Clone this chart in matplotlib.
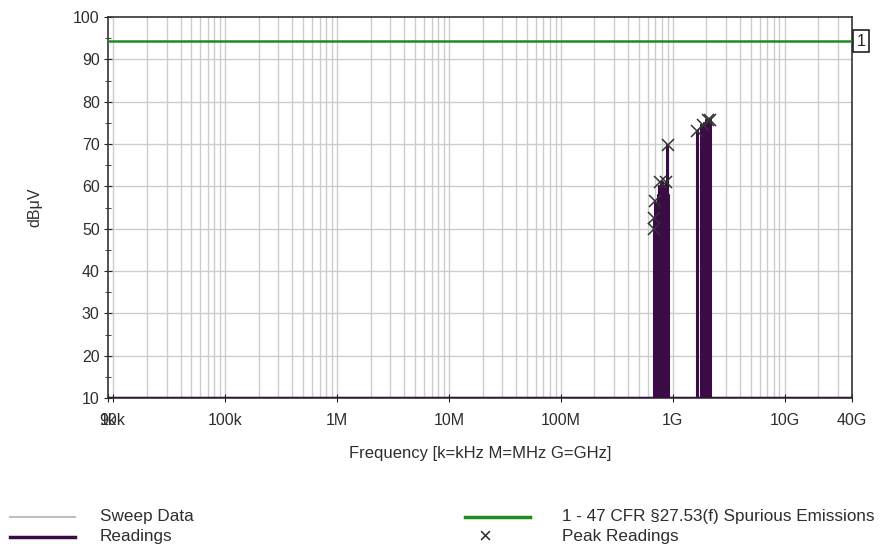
import matplotlib
matplotlib.use("Agg")
import matplotlib.pyplot as plt
from matplotlib.lines import Line2D
import numpy as np

plt.rcParams['font.family'] = ['Liberation Sans', 'DejaVu Sans']

# ---- data ----
limit_level = 94.3
limit_label = "1"

readings_freq = [9e3, 675e6, 690e6, 705e6, 720e6, 740e6, 760e6, 790e6, 820e6, 850e6, 880e6,
                 895e6, 905e6, 918e6, 1.66e9, 1.68e9, 1.80e9, 1.90e9, 2.0e9, 2.1e9, 2.18e9, 40e9]
readings_level = [10, 52, 56, 54, 55, 58, 60, 61, 60, 60, 61,
                  69.8, 58, 10, 73, 10, 74.5, 75, 75.6, 75.8, 10, 10]

peak_freq = [680e6, 682e6, 690e6, 765e6, 880e6, 900e6, 1.65e9, 1.88e9, 2.07e9, 2.15e9]
peak_level = [50.0, 52.5, 56.5, 61.0, 61.0, 69.8, 73.0, 74.5, 75.6, 75.6]

xtick_vals = [9e3, 10e3, 100e3, 1e6, 10e6, 100e6, 1e9, 10e9, 40e9]
xtick_labels = ["9k", "10k", "100k", "1M", "10M", "100M", "1G", "10G", "40G"]
ytick_vals = [10, 20, 30, 40, 50, 60, 70, 80, 90, 100]

purple = "#3a0b45"
green = "#1e8c1e"
gridc = "#cccccc"
textc = "#2e2e2e"

fig = plt.figure(figsize=(8.86, 5.54), dpi=100)
ax = fig.add_axes([108/886, 1-398/554, (852-108)/886, (398-17)/554])

ax.set_xscale('log')
ax.set_xlim(9e3, 40e9)
ax.set_ylim(10, 100)

# grid
for d in [1e4, 1e5, 1e6, 1e7, 1e8, 1e9, 1e10]:
    for m in range(1, 10):
        f = d * m
        if 9e3 < f < 40e9:
            ax.axvline(f, color=gridc, lw=1.0, zorder=0)
for y in ytick_vals[1:-1]:
    ax.axhline(y, color=gridc, lw=1.0, zorder=0)

# limit line
ax.axhline(limit_level, color=green, lw=1.8, zorder=3)

# readings
ax.fill_between(readings_freq, 10, readings_level, step='post', color=purple, lw=0, zorder=4)
ax.plot(readings_freq, readings_level, drawstyle='steps-post', color=purple, lw=1.5, zorder=5)
ax.axhline(10, color=purple, lw=2.5, zorder=5)

# peaks
ax.plot(peak_freq, peak_level, linestyle='none', marker='x', color='#333333', ms=8, mew=1.1, zorder=6)

ax.set_xticks(xtick_vals)
ax.set_xticklabels(xtick_labels)
ax.xaxis.set_minor_locator(matplotlib.ticker.NullLocator())
ax.set_yticks(ytick_vals)
ax.set_yticks([15, 25, 35, 45, 55, 65, 75, 85, 95], minor=True)
ax.tick_params(axis='both', which='both', direction='inout', colors='#222222',
               labelcolor=textc, labelsize=11.5)
ax.tick_params(axis='y', which='major', length=6, pad=3)
ax.tick_params(axis='y', which='minor', length=5)
ax.tick_params(axis='x', which='major', length=6, pad=8)
for s in ax.spines.values():
    s.set_color('#333333')
    s.set_linewidth(1.2)

ax.set_xlabel("Frequency [k=kHz M=MHz G=GHz]", fontsize=12, color=textc, labelpad=13)
ax.set_ylabel("dBμV", fontsize=11.5, color=textc, labelpad=22)

# limit label box
ax.text(1.006, limit_level, limit_label, transform=ax.get_yaxis_transform(),
        ha='left', va='center', fontsize=11.5, color='#222222',
        bbox=dict(boxstyle='square,pad=0.2', fc='white', ec='#222222', lw=1.2))

# legend (manual)
def fx(px):
    return px / 886
def fy(py):
    return 1 - py / 554

fig.add_artist(Line2D([fx(10), fx(75)], [fy(517), fy(517)], color='#c0c0c0', lw=1.5, transform=fig.transFigure))
fig.add_artist(Line2D([fx(10), fx(75)], [fy(537), fy(537)], color=purple, lw=2.5, transform=fig.transFigure))
fig.add_artist(Line2D([fx(465), fx(530)], [fy(517), fy(517)], color=green, lw=2.5, transform=fig.transFigure))
fig.text(fx(485), fy(537), "×", ha='center', va='center', fontsize=16, color=textc)
lfs = 12.3
fig.text(fx(100), fy(517), "Sweep Data", ha='left', va='center', fontsize=lfs, color=textc)
fig.text(fx(100), fy(537), "Readings", ha='left', va='center', fontsize=lfs, color=textc)
fig.text(fx(562), fy(517), "1 - 47 CFR §27.53(f) Spurious Emissions", ha='left', va='center', fontsize=lfs, color=textc)
fig.text(fx(562), fy(537), "Peak Readings", ha='left', va='center', fontsize=lfs, color=textc)

fig.savefig("out.png", dpi=100, facecolor='white')
